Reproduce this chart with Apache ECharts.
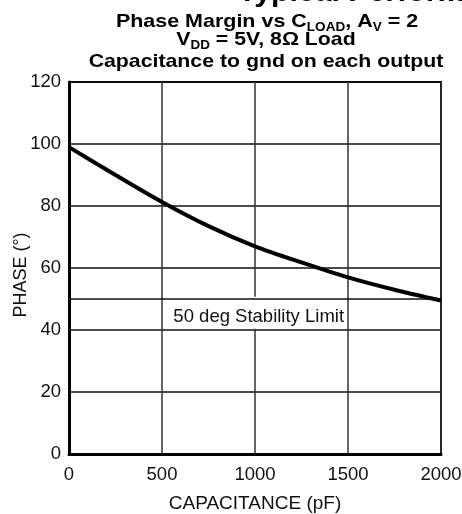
<!DOCTYPE html>
<html>
<head>
<meta charset="utf-8">
<script src="https://cdn.jsdelivr.net/npm/echarts@6/dist/echarts.min.js"></script>
<style>
html,body{margin:0;padding:0;background:#fff;}
#c{width:462px;height:514px;}
</style>
</head>
<body>
<div id="c"></div>
<script>
var capacitance = [0, 250, 500, 750, 1000, 1250, 1500, 1750, 2000];
var phase = [99, 90, 81.3, 73.5, 67, 61.8, 57, 53, 49.5];
var stabilityLimit = 50;
var stabilityLabel = '50 deg Stability Limit';
var xTicks = [0, 500, 1000, 1500, 2000];
var yTicks = [0, 20, 40, 60, 80, 100, 120];

var FONT = '"Liberation Sans", Arial, Helvetica, sans-serif';
var chart = echarts.init(document.getElementById('c'), null, {renderer: 'canvas'});

var richTitle = {
  m: {fontFamily: FONT, fontWeight: 'bold', fontSize: 19, lineHeight: 19, fill: '#000', color: '#000'},
  s: {fontFamily: FONT, fontWeight: 'bold', fontSize: 12, padding: [12, 0, 0, 0], fill: '#000', color: '#000'}
};

var option = {
  backgroundColor: '#fff',
  animation: false,
  graphic: [
    {type: 'text', x: 238, y: -20, z: 100, scaleX: 1.12,
      style: {text: 'Typical Performance Characteristics', fontFamily: FONT, fontWeight: 'bold', fontSize: 27, fill: '#000', align: 'left', verticalAlign: 'top'}},
    {type: 'text', x: 267, y: 10, z: 100, scaleX: 1.13,
      style: {text: '{m|Phase Margin vs C}{s|LOAD}{m|, A}{s|V}{m| = 2}', align: 'center', verticalAlign: 'top', fill: '#000', rich: richTitle}},
    {type: 'text', x: 266, y: 28, z: 100, scaleX: 1.12,
      style: {text: '{m|V}{s|DD}{m| = 5V, 8\u03A9 Load}', align: 'center', verticalAlign: 'top', fill: '#000', rich: richTitle}},
    {type: 'text', x: 266, y: 62, z: 100, scaleX: 1.12,
      style: {text: 'Capacitance to gnd on each output', fontFamily: FONT, fontWeight: 'bold', fontSize: 19, fill: '#000', align: 'center', verticalAlign: 'middle'}}
  ],
  grid: {left: 69, right: 21, top: 82, bottom: 60, containLabel: false, outerBoundsMode: 'none',
    show: true, borderColor: '#000', borderWidth: 2, backgroundColor: 'transparent'},
  xAxis: {
    type: 'value', min: xTicks[0], max: xTicks[xTicks.length - 1], interval: 500,
    name: 'CAPACITANCE (pF)', nameLocation: 'middle', nameGap: 40, nameMoveOverlap: false,
    nameTextStyle: {fontFamily: FONT, fontSize: 19, color: '#111'},
    axisLine: {show: true, lineStyle: {color: '#000', width: 3}},
    axisTick: {show: false},
    axisLabel: {margin: 11, fontFamily: FONT, fontSize: 18.5, color: '#111', formatter: function (v) { return String(v); }},
    splitLine: {show: true, lineStyle: {color: '#333', width: 1.5}}
  },
  yAxis: {
    type: 'value', min: yTicks[0], max: yTicks[yTicks.length - 1], interval: 20,
    name: 'PHASE (\u00B0)', nameLocation: 'middle', nameGap: 39, nameRotate: 90, nameMoveOverlap: false,
    nameTextStyle: {fontFamily: FONT, fontSize: 18, color: '#111', padding: [0, 14, 0, 0]},
    axisLine: {show: true, lineStyle: {color: '#000', width: 3}},
    axisTick: {show: false},
    axisLabel: {margin: 8, fontFamily: FONT, fontSize: 18.5, color: '#111', formatter: function (v) { return String(v); }},
    splitLine: {show: true, lineStyle: {color: '#111', width: 1.5}}
  },
  series: [
    {
      type: 'line', data: capacitance.map(function (c, i) { return [c, phase[i]]; }),
      smooth: 0.3, showSymbol: false, symbol: 'none',
      lineStyle: {color: '#000', width: 4}, z: 4,
      markArea: {
        silent: true,
        itemStyle: {color: '#fff'},
        label: {show: true, position: 'inside', offset: [0, 4], fontFamily: FONT, fontSize: 18.5, color: '#111'},
        data: [[{xAxis: 560, yAxis: 40.4, name: stabilityLabel}, {xAxis: 1480, yAxis: 50.7}]]
      }
    },
    {
      type: 'line', data: [], z: 5,
      markLine: {
        silent: true, symbol: 'none', label: {show: false},
        lineStyle: {color: '#111', width: 1.5, type: 'solid'},
        data: [{yAxis: stabilityLimit}]
      }
    }
  ]
};
chart.setOption(option);
</script>
</body>
</html>
